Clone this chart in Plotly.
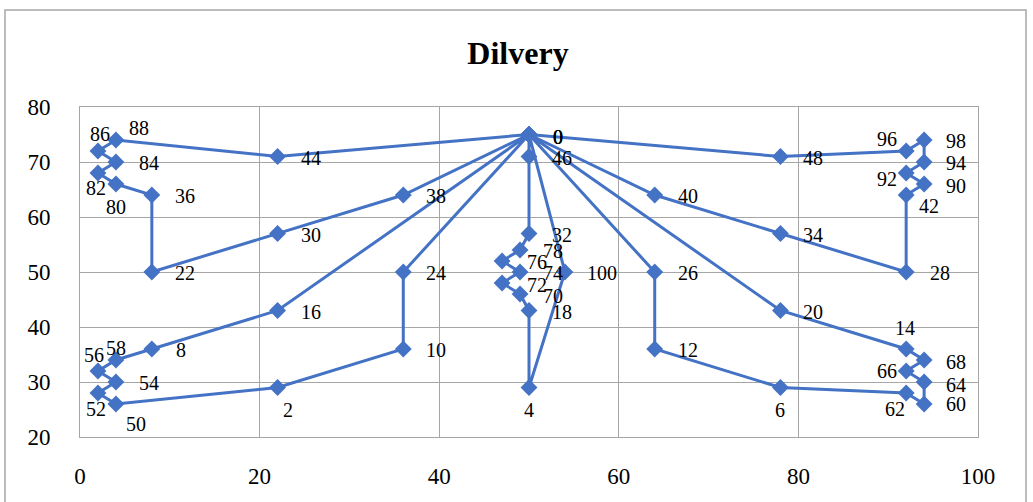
import plotly.graph_objects as go

# ---- data ----
node_ids = [0, 2, 4, 6, 8, 10, 12, 14, 16, 18, 20, 22, 24, 26, 28, 30, 32, 34, 36, 38,
            40, 42, 44, 46, 48, 50, 52, 54, 56, 58, 60, 62, 64, 66, 68, 70, 72, 74, 76, 78,
            80, 82, 84, 86, 88, 90, 92, 94, 96, 98, 100]
node_x = [50, 22, 50, 78, 8, 36, 64, 92, 22, 50, 78, 8, 36, 64, 92, 22, 50, 78, 8, 36,
          64, 92, 22, 50, 78, 4, 2, 4, 2, 4, 94, 92, 94, 92, 94, 49, 47, 49, 47, 49,
          4, 2, 4, 2, 4, 94, 92, 94, 92, 94, 54]
node_y = [75, 29, 29, 29, 36, 36, 36, 36, 43, 43, 43, 50, 50, 50, 50, 57, 57, 57, 64, 64,
          64, 64, 71, 71, 71, 26, 28, 30, 32, 34, 26, 28, 30, 32, 34, 46, 48, 50, 52, 54,
          66, 68, 70, 72, 74, 66, 68, 70, 72, 74, 50]

route_1 = [0, 44, 88, 86, 84, 82, 80, 36, 22, 30, 38, 0]
route_2 = [0, 16, 8, 58, 56, 54, 52, 50, 2, 10, 24, 0]
route_3 = [0, 46, 32, 78, 76, 74, 72, 70, 18, 4, 100, 0]
route_4 = [0, 48, 96, 98, 94, 92, 90, 42, 28, 34, 40, 0]
route_5 = [0, 20, 14, 68, 66, 64, 60, 62, 6, 12, 26, 0]
routes = [route_1, route_2, route_3, route_4, route_5]

x_ticks = [0, 20, 40, 60, 80, 100]
y_ticks = [20, 30, 40, 50, 60, 70, 80]
title_text = "Dilvery"

# ---- style ----
LINE_COLOR = "#4472C4"
GRID = "#A6A6A6"
FONT = "Liberation Serif"
LABEL_SIZE = 20
# label offsets in pixels (dx right, dy down)
default_off = (33, 1)
label_off = {
    0: (29, 2), 88: (23, -12), 86: (2, -17), 82: (-2, 15), 80: (0, 23),
    8: (29, 1), 58: (0, -12), 56: (-4, -16), 52: (-2, 16), 50: (20, 20),
    2: (10, 22), 76: (35, 1), 72: (35, 2), 70: (33, 2), 4: (0, 22),
    100: (37, 1), 6: (0, 22), 14: (-1, -21), 68: (32, 2), 66: (-19, 0),
    64: (32, 3), 62: (-11, 16), 60: (32, 0), 96: (-19, -12), 98: (32, 1),
    94: (32, 1), 92: (-19, 6), 90: (32, 2), 42: (23, 11), 28: (34, 1),
}

pos = {n: (x, y) for n, x, y in zip(node_ids, node_x, node_y)}

fig = go.Figure()
for r in routes:
    fig.add_trace(go.Scatter(
        x=[pos[n][0] for n in r],
        y=[pos[n][1] for n in r],
        mode="lines+markers",
        line=dict(color=LINE_COLOR, width=3),
        marker=dict(symbol="diamond", size=13, color=LINE_COLOR),
        showlegend=False,
        hoverinfo="skip",
    ))

annotations = []
for n in node_ids:
    dx, dy = label_off.get(n, default_off)
    reps = 3 if n == 0 else 1
    for _ in range(reps):
        annotations.append(dict(
            x=pos[n][0], y=pos[n][1], xref="x", yref="y",
            text=str(n), showarrow=False,
            xshift=dx, yshift=-dy,
            font=dict(family=FONT, size=LABEL_SIZE, color="#000000"),
        ))

# body margin is removed by post_script, so figure coords == page coords
W, H = 1033, 502
L, R, T, B = 80, 978, 107, 437
fig.update_layout(
    width=W, height=H,
    margin=dict(l=L, r=W - R, t=T, b=H - B, autoexpand=False),
    paper_bgcolor="white", plot_bgcolor="white",
    title=dict(text="<b>" + title_text + "</b>", x=518 / W, xanchor="center",
               y=1 - 53 / H, yanchor="middle", yref="container",
               font=dict(family=FONT, size=32, color="#000000")),
    annotations=annotations,
    xaxis=dict(range=[0, 100], tickvals=x_ticks, showgrid=True, gridcolor=GRID,
               gridwidth=1, showline=True, linecolor=GRID, linewidth=1, mirror=True,
               zeroline=False, ticks="outside", ticklen=18, tickcolor="rgba(0,0,0,0)",
               automargin=False,
               tickfont=dict(family=FONT, size=23, color="#000000")),
    yaxis=dict(range=[20, 80], tickvals=y_ticks, showgrid=True, gridcolor=GRID,
               gridwidth=1, showline=True, linecolor=GRID, linewidth=1, mirror=True,
               zeroline=False, ticks="outside", ticklen=24, tickcolor="rgba(0,0,0,0)",
               automargin=False,
               tickfont=dict(family=FONT, size=23, color="#000000")),
)

pw, ph = R - L, B - T
fig.add_shape(type="rect", xref="paper", yref="paper",
              x0=(5 - L) / pw, x1=(1026 - L) / pw,
              y0=(B - 530) / ph, y1=(B - 10) / ph,
              line=dict(color="#A6A6A6", width=1.5), fillcolor="rgba(0,0,0,0)",
              layer="below")

fig.write_html(
    "out.html",
    config={"displayModeBar": False},
    post_script="document.body.style.margin='0';document.body.style.overflow='hidden';",
)
